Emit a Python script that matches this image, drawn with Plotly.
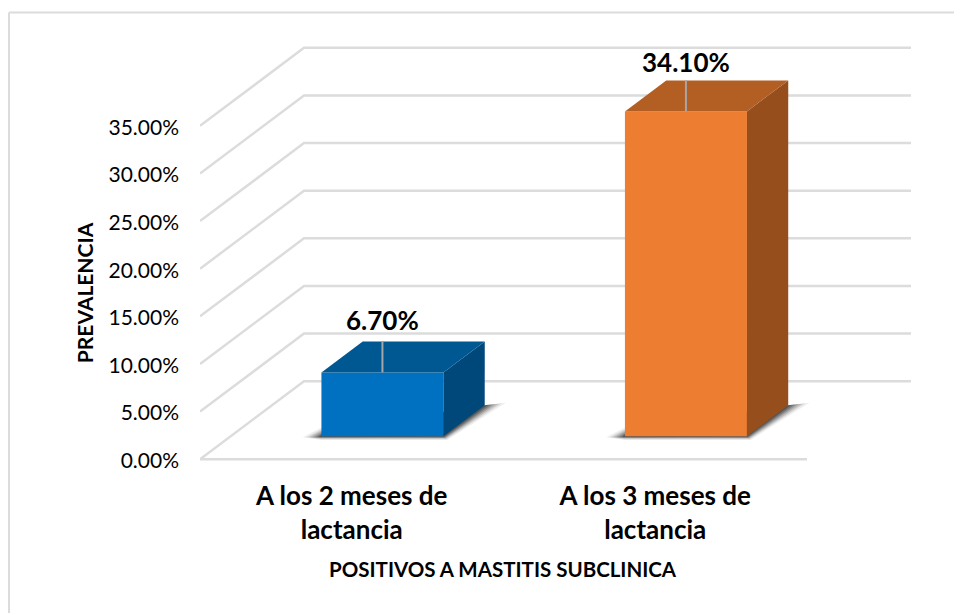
import plotly.graph_objects as go

CATEGORIES = ["A los 2 meses de<br>lactancia", "A los 3 meses de<br>lactancia"]
VALUES = [6.7, 34.1]
VALUE_LABELS = ["6.70%", "34.10%"]
TICK_VALUES = [0, 5, 10, 15, 20, 25, 30, 35]
TICK_LABELS = ["0.00%", "5.00%", "10.00%", "15.00%", "20.00%", "25.00%", "30.00%", "35.00%"]
CATEGORY_POS = [0.5, 1.5]

X_TITLE = "POSITIVOS A MASTITIS SUBCLINICA"
Y_TITLE = "PREVALENCIA"

GRID = "#dcdcdc"
FRONT = ["#0070c0", "#ed7d31"]
TOP = ["#005893", "#b35e23"]
SIDE = ["#00487a", "#964f1c"]
FONT = "Lato, sans-serif"

# chart scale: pixels per category and per percent point
W, H = 954, 613
LEFT, BOTTOM = 200, 459
PX_CAT = 303.5
PX_PCT = 9.52
AXIS_FLOOR = -0.5
PLOT_BOTTOM = BOTTOM - AXIS_FLOOR * PX_PCT
DEPTH_X = 104 / PX_CAT
DEPTH_Y = 78 / PX_PCT
BAR_W = 0.402
BAR_FRONT = 0.295
BAR_BACK = 0.692
LABEL_GAP = [2.2, 1.9]


def project(x, value, depth=0.0):
    return x + depth * DEPTH_X, value + depth * DEPTH_Y


def polygon(fig, points, color):
    fig.add_trace(go.Scatter(
        x=[p[0] for p in points] + [points[0][0]],
        y=[p[1] for p in points] + [points[0][1]],
        mode="lines", fill="toself", fillcolor=color,
        line=dict(width=0), hoverinfo="skip",
    ))


def paper_x(px):
    return (px - LEFT) / (W - LEFT)


def paper_y(py):
    return (PLOT_BOTTOM - py) / PLOT_BOTTOM


def grid_lines(fig):
    xs, ys = [], []
    n_cat = len(CATEGORIES)
    for t in TICK_VALUES:
        a = project(0, t)
        b = project(0, t, 1)
        c = project(n_cat, t, 1)
        xs += [a[0], b[0], c[0], None]
        ys += [a[1], b[1], c[1], None]
    front = [project(0, 0), project(n_cat, 0)]
    xs += [front[0][0], front[1][0]]
    ys += [front[0][1], front[1][1]]
    fig.add_trace(go.Scatter(x=xs, y=ys, mode="lines", line=dict(color=GRID, width=2.5), hoverinfo="skip"))


def shadow(fig, x0, x1):
    # no blur in plotly, so stack a few soft polygons
    fx0, fy = project(x0, 0, BAR_FRONT)
    fx1, _ = project(x1, 0, BAR_FRONT)
    bx1, by = project(x1, 0, BAR_BACK)
    for s, alpha in [(1.25, 0.08), (1.0, 0.12), (0.8, 0.16), (0.6, 0.22), (0.4, 0.3), (0.2, 0.4)]:
        dx = s / PX_CAT
        dy = s / PX_PCT
        polygon(fig, [
            (fx0 - 15 * dx, fy - 1 / PX_PCT),
            (fx0, fy + 7 * dy),
            (bx1, by),
            (bx1 + 17 * dx, by + 2 * dy),
            (fx1 + 3 * dx, fy - 3 * dy),
            (fx0, fy - 3 * dy),
        ], f"rgba(40,40,40,{alpha})")


def bar_3d(fig, i):
    x0 = CATEGORY_POS[i] - BAR_W / 2
    x1 = CATEGORY_POS[i] + BAR_W / 2
    v = VALUES[i]
    shadow(fig, x0, x1)
    polygon(fig, [project(x0, 0, BAR_FRONT), project(x1, 0, BAR_FRONT),
                  project(x1, v, BAR_FRONT), project(x0, v, BAR_FRONT)], FRONT[i])
    polygon(fig, [project(x1, 0, BAR_FRONT), project(x1, 0, BAR_BACK),
                  project(x1, v, BAR_BACK), project(x1, v, BAR_FRONT)], SIDE[i])
    polygon(fig, [project(x0, v, BAR_FRONT), project(x1, v, BAR_FRONT),
                  project(x1, v, BAR_BACK), project(x0, v, BAR_BACK)], TOP[i])
    # leader line up to the data label
    lx, ly = project(CATEGORY_POS[i], v, BAR_FRONT)
    top = ly + (BAR_BACK - BAR_FRONT) * DEPTH_Y
    fig.add_trace(go.Scatter(
        x=[lx, lx], y=[ly, top],
        mode="lines", line=dict(color="#a6a6a6", width=2), hoverinfo="skip",
    ))
    fig.add_annotation(
        x=lx, y=top + LABEL_GAP[i], text=f"<b>{VALUE_LABELS[i]}</b>", showarrow=False,
        font=dict(size=26, color="#000000", family=FONT),
    )


fig = go.Figure()
grid_lines(fig)
for i in range(len(VALUES)):
    bar_3d(fig, i)

fig.update_xaxes(
    range=[0, (W - LEFT) / PX_CAT],
    tickvals=CATEGORY_POS,
    ticktext=[f"<b>{c}</b>" for c in CATEGORIES],
    tickangle=0,
    ticks="", ticklabelstandoff=14,
    tickfont=dict(size=26, color="#000000", family=FONT),
    showgrid=False, zeroline=False, showline=False,
)
fig.update_yaxes(
    range=[AXIS_FLOOR, BOTTOM / PX_PCT],
    # labels sit a touch under their gridline in the original
    tickvals=[t - 0.15 for t in TICK_VALUES],
    ticktext=TICK_LABELS,
    ticks="", ticklabelstandoff=20,
    tickfont=dict(size=21, color="#000000", family=FONT),
    showgrid=False, zeroline=False, showline=False,
)
fig.add_annotation(
    xref="paper", yref="paper", x=paper_x(84), y=paper_y(293), text=f"<b>{Y_TITLE}</b>",
    xanchor="center", yanchor="middle",
    textangle=-90, showarrow=False, font=dict(size=21, color="#000000", family=FONT),
)
fig.add_annotation(
    xref="paper", yref="paper", x=paper_x(503), y=paper_y(569), text=f"<b>{X_TITLE}</b>",
    xanchor="center", yanchor="middle",
    showarrow=False, font=dict(size=20.5, color="#000000", family=FONT),
)
# chart frame: only the left and top edges are in the crop
fig.add_shape(type="line", xref="paper", yref="paper", x0=paper_x(9), y0=paper_y(H),
              x1=paper_x(9), y1=paper_y(12.5), line=dict(color=GRID, width=2))
fig.add_shape(type="line", xref="paper", yref="paper", x0=paper_x(9), y0=paper_y(12.5),
              x1=paper_x(W), y1=paper_y(12.5), line=dict(color=GRID, width=2))

fig.update_layout(
    width=W, height=H,
    margin=dict(l=LEFT, r=0, t=0, b=H - PLOT_BOTTOM),
    plot_bgcolor="white", paper_bgcolor="white",
    showlegend=False,
)
fig.write_html(
    "out.html",
    config={"displayModeBar": False},
    post_script="document.body.style.margin='0';document.body.style.overflow='hidden';",
)
